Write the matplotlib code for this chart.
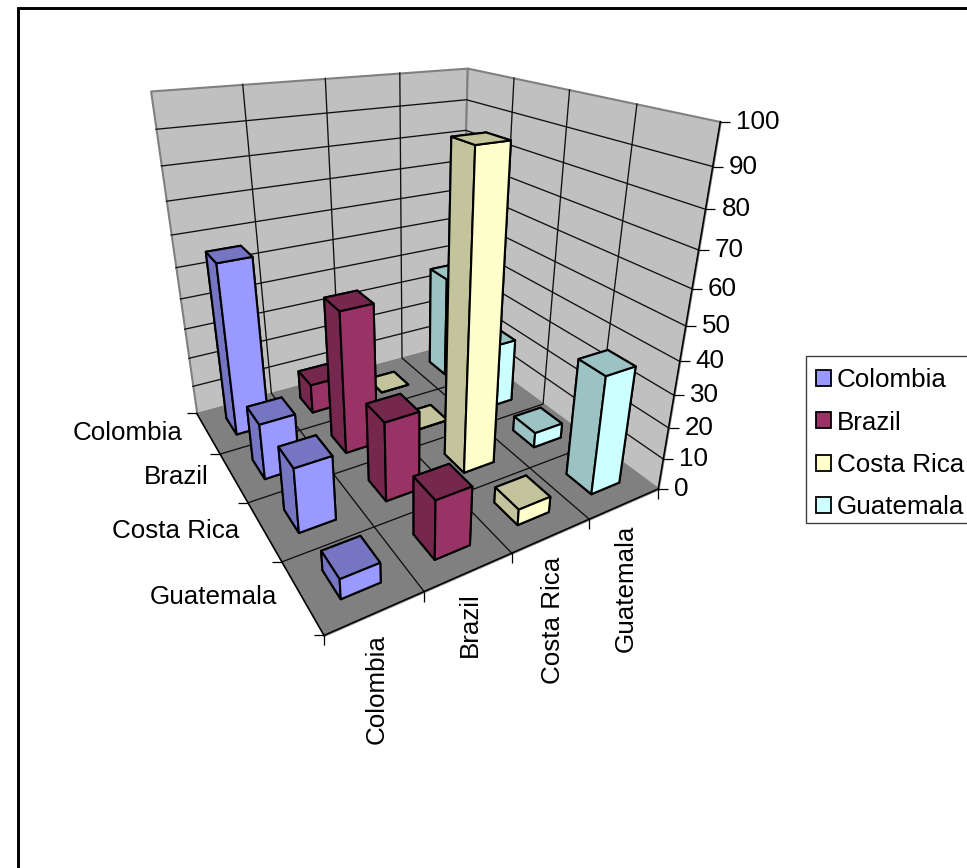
import numpy as np
import matplotlib
matplotlib.use("Agg")
import matplotlib.pyplot as plt
import matplotlib.markers as mmarkers
import matplotlib.colors as mcolors
from matplotlib.patches import Patch, Rectangle
from mpl_toolkits.mplot3d import proj3d
from mpl_toolkits.mplot3d.art3d import Poly3DCollection

plt.rcParams['font.family'] = ['Liberation Sans', 'DejaVu Sans']

# Countries, listed back to front on the depth axis and left to right on the series axis
countries = ["Colombia", "Brazil", "Costa Rica", "Guatemala"]
z_ticks = [0, 10, 20, 30, 40, 50, 60, 70, 80, 90, 100]

# One value per depth-axis country
colombia = [56, 18, 20, 6]
brazil = [10, 46, 25, 18]
costa_rica = [0, 0, 93, 5]
guatemala = [36, 22, 5, 37]
series_values = [colombia, brazil, costa_rica, guatemala]
series_colors = ["#9999FF", "#993366", "#FFFFCC", "#CCFFFF"]

W, H = 967, 868
BAR = 0.41
SHADE = 0.765

# Camera calibration: axis landmarks (x, y, z) and where they land on the canvas
landmarks = np.array([
    (0, 0, 0, 325, 637), (1, 0, 0, 423, 593), (2, 0, 0, 512, 553),
    (3, 0, 0, 588, 518), (4, 0, 0, 657, 487), (0, 1, 0, 283, 563),
    (0, 3, 0, 220, 452), (0, 4, 0, 195, 412), (4, 4, 0, 462, 345),
    (0, 4, 100, 152, 92), (4, 4, 100, 465, 67), (4, 0, 100, 722, 122),
    (4, 0, 50, 686, 326),
], dtype=float)


def fit_camera(points):
    """Least-squares 3x4 projective camera, canvas pixels from data coordinates."""
    rows = []
    for x, y, z, u, v in points:
        X = [x, y, z / 25.0, 1.0]
        rows.append(X + [0, 0, 0, 0] + [-u / 1000 * c for c in X])
        rows.append([0, 0, 0, 0] + X + [-v / 1000 * c for c in X])
    p = np.linalg.svd(np.array(rows))[2][-1].reshape(3, 4)
    p[:2] *= 1000
    p[:, 2] /= 25.0
    if p[2] @ np.array([2, 2, 0, 1]) < 0:
        p = -p
    return p


fig = plt.figure(figsize=(W / 100, H / 100), dpi=100, facecolor="white")
ax = fig.add_axes([0, 0, 1, 1], projection="3d")
ax.set_axis_off()
ax.set_autoscale_on(False)
ax.computed_zorder = False
ax.apply_aspect = lambda position=None: None

cam = fit_camera(landmarks)
inv = ax.transData.inverted()
x0, y_top = inv.transform((0, H))
x1, y_bot = inv.transform((W, 0))
proj = np.vstack([
    x0 * cam[2] + (x1 - x0) / W * cam[0],
    y_top * cam[2] + (y_bot - y_top) / H * cam[1],
    [0, 0, 0, -1],
    cam[2],
])
ax.get_proj = lambda: proj


def axis_label(x, y, z, text, dx, dy, **kwargs):
    """Label a point of the 3D scene, nudged by a pixel offset."""
    px, py, _ = proj3d.proj_transform(x, y, z, proj)
    ax.annotate(text, (px, py), xytext=(dx, dy), textcoords="offset pixels",
                fontsize=FONT, annotation_clip=False, **kwargs)


# Walls and floor
left_wall = [(0, 4, 0), (4, 4, 0), (4, 4, 100), (0, 4, 100)]
right_wall = [(4, 4, 0), (4, 0, 0), (4, 0, 100), (4, 4, 100)]
floor = [(0, 0, 0), (4, 0, 0), (4, 4, 0), (0, 4, 0)]
for verts, face, zo in ((left_wall, "#C0C0C0", 1), (right_wall, "#C0C0C0", 1), (floor, "#808080", 2)):
    ax.add_collection3d(Poly3DCollection([verts], facecolor=face, edgecolor="#808080",
                                         linewidth=1.5, zorder=zo))

GRID = dict(color="#101010", linewidth=0.95, zorder=3)
for z in z_ticks[1:-1]:
    ax.plot([0, 4, 4], [4, 4, 0], [z, z, z], **GRID)
for k in range(1, 4):
    ax.plot([k, k, k], [0, 4, 4], [0, 0, 100], **GRID)
    ax.plot([0, 4, 4], [k, k, k], [0, 0, 100], **GRID)

# Axis lines and ticks
AXIS = dict(color="black", linewidth=1.1, zorder=4)
ax.plot([0, 4, 4], [0, 0, 0], [0, 0, 100], **AXIS)
ax.plot([0, 0], [0, 4], [0, 0], **AXIS)
TICK = dict(color="black", linestyle="none", markersize=7.5, markeredgewidth=0.9, zorder=4)
ax.plot([4] * len(z_ticks), [0] * len(z_ticks), z_ticks, marker=mmarkers.TICKRIGHT, **TICK)
ax.plot(range(5), [0] * 5, [0] * 5, marker=mmarkers.TICKDOWN, **TICK)
ax.plot([0] * 5, range(5), [0] * 5, marker=mmarkers.TICKLEFT, **TICK)

# Tick labels
FONT = 18.7
for z in z_ticks:
    axis_label(4, 0, z, str(z), 16, 0, ha="left", va="center")
for i, name in enumerate(countries):
    axis_label(0, 3.5 - i, 0, name, -25, 0, ha="right", va="center")
    axis_label(i + 0.5, 0, 0, name, 1, -21, rotation=90, ha="center", va="top")

# Bars, painted from the far corner towards the viewer
order = 10
for row in range(len(countries)):
    for col in range(3, -1, -1):
        base = np.array(mcolors.to_rgb(series_colors[col]))
        dark = tuple(base * SHADE)
        lit = tuple(base)
        ax.bar3d(col + 0.5 - BAR / 2, 3.5 - row - BAR / 2, 0, BAR, BAR, series_values[col][row],
                 color=[dark, dark, lit, lit, dark, dark], shade=False,
                 edgecolor="black", linewidth=1.5, zorder=order)
        order += 1

# Chart frame and legend box both run off the canvas edge
fig.add_artist(Rectangle((17.5 / W, -0.1), 1.1, 1 - 8.0 / H + 0.1, transform=fig.transFigure,
                         fill=False, edgecolor="black", linewidth=2.1))
fig.add_artist(Rectangle((806 / W, 1 - 523 / H), 0.3, 167 / H, transform=fig.transFigure,
                         facecolor="white", edgecolor="#404040", linewidth=1.0))

handles = [Patch(facecolor=c, edgecolor="black", linewidth=1.3) for c in series_colors]
fig.legend(handles, countries, loc="upper left", bbox_to_anchor=(806 / W, 1 - 358 / H),
           borderaxespad=0, fontsize=FONT, frameon=False, handlelength=0.58, handleheight=0.58,
           handletextpad=0.2, labelspacing=0.70, borderpad=0.40)

fig.savefig("out.png", dpi=100, facecolor="white")
